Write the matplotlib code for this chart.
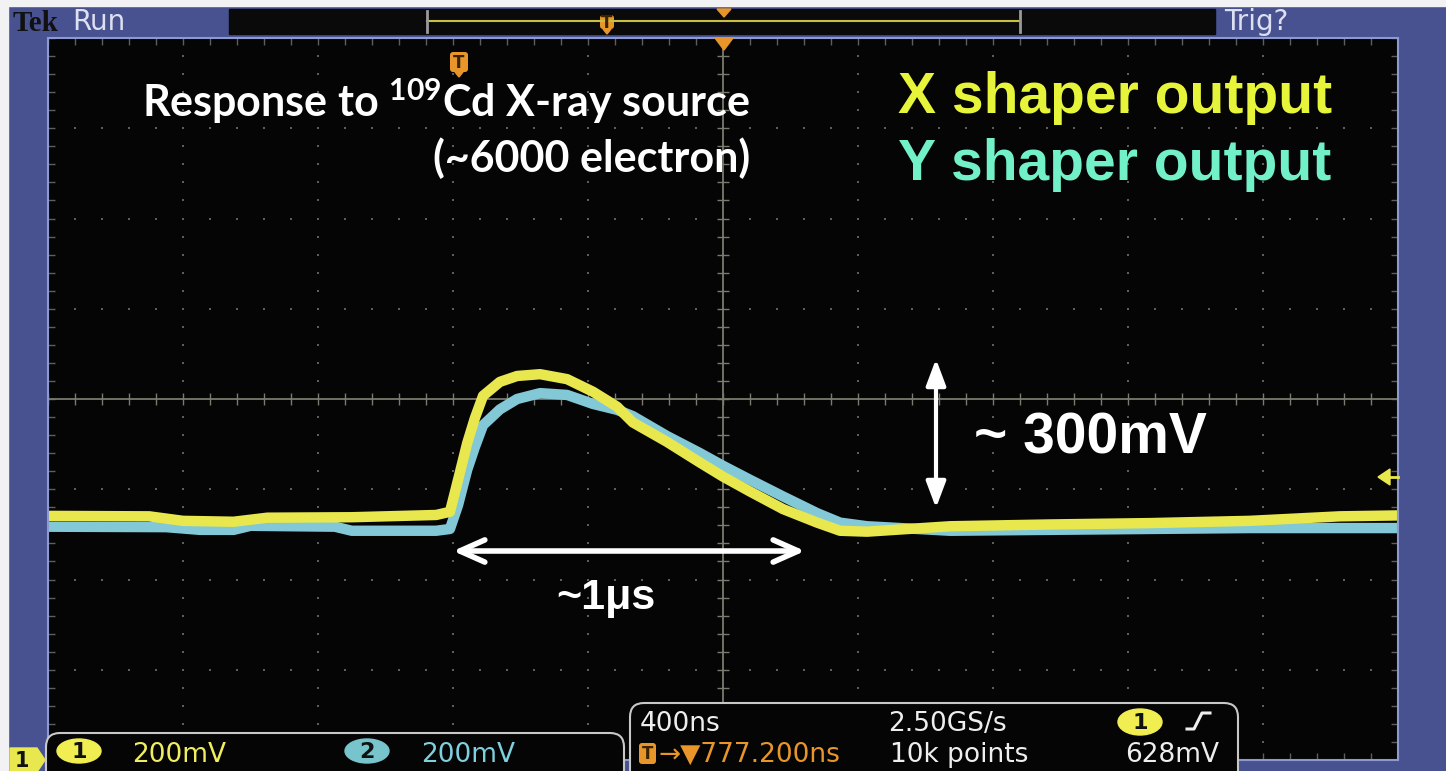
import matplotlib.pyplot as plt
from matplotlib.patches import FancyBboxPatch, Polygon, Rectangle, Ellipse
import numpy as np

# ---- traces: time in ns from centre, level in mV from centre ----
t_ch1 = [-2000, -1700, -1600, -1450, -1350, -1100, -850, -809, -785, -758, -735, -711,
         -661, -610, -542, -462, -385, -314, -267, -166, -68, 0, 80, 178, 279, 347, 427,
         673, 969, 1265, 1561, 1828, 2000]
v_ch1 = [-259, -260, -270, -272, -263, -262, -257, -250, -179, -98, -42, 7,
         38, 51, 55, 44, 16, -17, -52, -95, -141, -172, -205, -244, -274, -292, -294,
         -282, -278, -275, -270, -260, -258]

t_ch2 = [-2000, -1650, -1550, -1450, -1400, -1150, -1100, -850, -809, -785, -758, -735,
         -711, -661, -610, -542, -462, -385, -314, -267, -166, -68, 0, 80, 178, 279, 347,
         427, 673, 969, 1265, 1561, 2000]
v_ch2 = [-283, -284, -290, -290, -281, -283, -292, -292, -288, -235, -157, -106,
         -58, -23, 0, 13, 9, -11, -24, -38, -82, -120, -148, -179, -216, -253, -274,
         -282, -292, -290, -288, -286, -286]

# ---- scope settings / readouts ----
time_per_div = 400   # ns
volt_per_div = 200   # mV
n_hdiv = 10
n_vdiv = 8
ch1_scale = "200mV"
ch2_scale = "200mV"
horiz_scale = "400ns"
sample_rate = "2.50GS/s"
record_len = "10k points"
trig_level = "628mV"
trig_pos = "777.200ns"

W, H = 1446, 771
BLUE = '#485291'
YEL = '#e8e84e'
CYAN = '#82c8d6'
ORANGE = '#e8962a'
GRID = '#5e5e5e'
AXIS = '#7a7a6e'

plt.rcParams['mathtext.fontset'] = 'custom'
plt.rcParams['mathtext.bf'] = 'Lato:bold'
plt.rcParams['mathtext.rm'] = 'Lato:bold'

fig = plt.figure(figsize=(W / 100, H / 100), dpi=100, facecolor=BLUE)

# ---- scope screen ----
scr = fig.add_axes([48 / W, 1 - 760 / H, 1350 / W, 722 / H])
scr.set_facecolor('#050505')
half_t = time_per_div * n_hdiv / 2
half_v = volt_per_div * n_vdiv / 2
scr.set_xlim(-half_t, half_t)
scr.set_ylim(-half_v, half_v)

minor_t = np.arange(-half_t, half_t + 1, time_per_div / 5)
minor_v = np.arange(-half_v, half_v + 1, volt_per_div / 5)
major_t = np.arange(-half_t, half_t + 1, time_per_div)
major_v = np.arange(-half_v, half_v + 1, volt_per_div)

# dotted graticule
for x in major_t[1:-1]:
    scr.plot(np.full(len(minor_v), x), minor_v, ls='none', marker='s', ms=1.6, color=GRID, mew=0)
for y in major_v[1:-1]:
    scr.plot(minor_t, np.full(len(minor_t), y), ls='none', marker='s', ms=1.6, color=GRID, mew=0)

# centre cross with ticks
scr.axhline(0, color=AXIS, lw=1.3)
scr.axvline(0, color=AXIS, lw=1.3)
scr.plot(minor_t, np.zeros_like(minor_t), ls='none', marker='|', ms=8, mew=1, color=AXIS)
scr.plot(np.zeros_like(minor_v), minor_v, ls='none', marker='_', ms=8, mew=1, color=AXIS)

scr.set_xticks(minor_t)
scr.set_yticks(minor_v)
scr.tick_params(direction='in', length=5, width=1, color=GRID, top=True, right=True,
                labelbottom=False, labelleft=False)
for s in scr.spines.values():
    s.set_color('#8c9ad0')
    s.set_linewidth(1.5)

# traces
scr.plot(t_ch2, v_ch2, color=CYAN, lw=7.5, solid_joinstyle='round', solid_capstyle='butt')
scr.plot(t_ch1, v_ch1, color=YEL, lw=7.5, solid_joinstyle='round', solid_capstyle='butt')

# ---- overlay in pixel coordinates ----
ui = fig.add_axes([0, 0, 1, 1], facecolor='none')
ui.set_xlim(0, W)
ui.set_ylim(H, 0)
ui.axis('off')

ui.add_patch(Rectangle((0, 0), W, 6, color='#f2f2f4'))
ui.add_patch(Rectangle((0, 0), 8, H, color='#f2f2f4'))


def t_marker(x, ytop, w=18, h=18):
    ui.add_patch(FancyBboxPatch((x - w / 2, ytop), w, h, boxstyle='round,pad=0,rounding_size=3',
                                fc=ORANGE, ec='none'))
    ui.add_patch(Polygon([(x - 4, ytop + h), (x + 4, ytop + h), (x, ytop + h + 5)], color=ORANGE))
    ui.text(x, ytop + h / 2 + 1, 'T', ha='center', va='center', color='#3a2400',
            fontsize=12, fontweight='bold')


# top status bar
ui.text(13, 31, 'Tek', family='Liberation Serif', weight='bold', size=21, color='#111111', va='baseline')
ui.text(72, 30, 'Run', size=20, color='#dde0f0', va='baseline')
ui.text(1224, 30, 'Trig?', size=20, color='#dde0f0', va='baseline')
ui.add_patch(Rectangle((229, 9), 986, 25, color='#0a0a0a'))
ui.plot([427, 1020], [21, 21], color='#c8c040', lw=1.5)
ui.plot([427, 427], [11, 32], color='#9a9a9a', lw=2)
ui.plot([1020, 1020], [11, 32], color='#9a9a9a', lw=2)
t_marker(607, 15, w=14, h=14)
ui.add_patch(Polygon([(717, 9), (731, 9), (724, 17)], color=ORANGE))

# screen markers
t_marker(459, 52, w=18, h=20)
ui.add_patch(Polygon([(715, 38), (733, 38), (724, 50)], color=ORANGE))
ui.add_patch(Polygon([(1378, 477), (1390, 469), (1390, 485)], color=YEL))
ui.plot([1389, 1398], [477, 477], color=YEL, lw=2)

# annotations
ui.text(750, 117, r'Response to $^{\mathbf{109}}$Cd X-ray source', ha='right', va='baseline',
        family='Lato', weight='bold', size=31, color='white')
ui.text(750, 172, '(~6000 electron)', ha='right', va='baseline',
        family='Lato', weight='bold', size=31, color='white')
ui.text(898, 113, 'X shaper output', family='Liberation Sans', weight='bold', size=41,
        color='#e6f53a', va='baseline')
ui.text(898, 180, 'Y shaper output', family='Liberation Sans', weight='bold', size=41,
        color='#72f0c8', va='baseline')
ui.text(974, 453, '~ 300mV', family='Liberation Sans', weight='bold', size=41,
        color='white', va='baseline')
ui.text(556, 609, '~1μs', family='Liberation Sans', weight='bold', size=31,
        color='white', va='baseline')

ui.annotate('', xy=(936, 359), xytext=(936, 508),
            arrowprops=dict(arrowstyle='<|-|>,head_length=0.8,head_width=0.3', mutation_scale=20,
                            color='white', lw=3, shrinkA=0, shrinkB=0))
ui.annotate('', xy=(453, 551), xytext=(805, 551),
            arrowprops=dict(arrowstyle='<->,head_length=0.9,head_width=0.4', mutation_scale=20,
                            color='white', lw=4, shrinkA=0, shrinkB=0))

# bottom-left channel marker
ui.add_patch(Polygon([(10, 748), (37, 748), (45, 760), (37, 772), (10, 772)], color=YEL))
ui.text(22, 767, '1', ha='center', va='baseline', color='#111111', size=15, weight='bold')

# channel readout box
ui.add_patch(FancyBboxPatch((46, 733), 578, 60, boxstyle='round,pad=0,rounding_size=14',
                            fc='#050505', ec='#c8c8c8', lw=1.5))
ui.add_patch(Ellipse((79, 751), 44, 24, color='#f0ee50'))
ui.text(79, 752, '1', ha='center', va='center', color='#111111', size=16, weight='bold')
ui.text(132, 762, ch1_scale, color='#f0ee60', size=19, va='baseline')
ui.add_patch(Ellipse((367, 751), 44, 24, color='#78c4cc'))
ui.text(367, 752, '2', ha='center', va='center', color='#111111', size=16, weight='bold')
ui.text(421, 762, ch2_scale, color='#7ed0dc', size=19, va='baseline')

# timebase / trigger readout box
ui.add_patch(FancyBboxPatch((630, 703), 608, 90, boxstyle='round,pad=0,rounding_size=14',
                            fc='#050505', ec='#c8c8c8', lw=1.5))
ui.text(640, 731, horiz_scale, color='#eeeeee', size=19, va='baseline')
ui.text(888, 731, sample_rate, color='#eeeeee', size=19, va='baseline')
ui.add_patch(Ellipse((1140, 722), 44, 26, color='#f0ee50'))
ui.text(1140, 723, '1', ha='center', va='center', color='#111111', size=16, weight='bold')
ui.plot([1187, 1194, 1202, 1210], [729, 729, 713, 713], color='#eeeeee', lw=2.2)
ui.add_patch(FancyBboxPatch((639, 743), 17, 21, boxstyle='round,pad=0,rounding_size=3',
                            fc=ORANGE, ec='none'))
ui.text(647.5, 754, 'T', ha='center', va='center', color='#3a2400', size=12, weight='bold')
ui.text(658, 762, '→▼' + trig_pos, color=ORANGE, size=19, va='baseline')
ui.text(890, 762, record_len, color='#eeeeee', size=19, va='baseline')
ui.text(1125, 762, trig_level, color='#eeeeee', size=19, va='baseline')

fig.savefig('out.png', dpi=100, facecolor=BLUE)
